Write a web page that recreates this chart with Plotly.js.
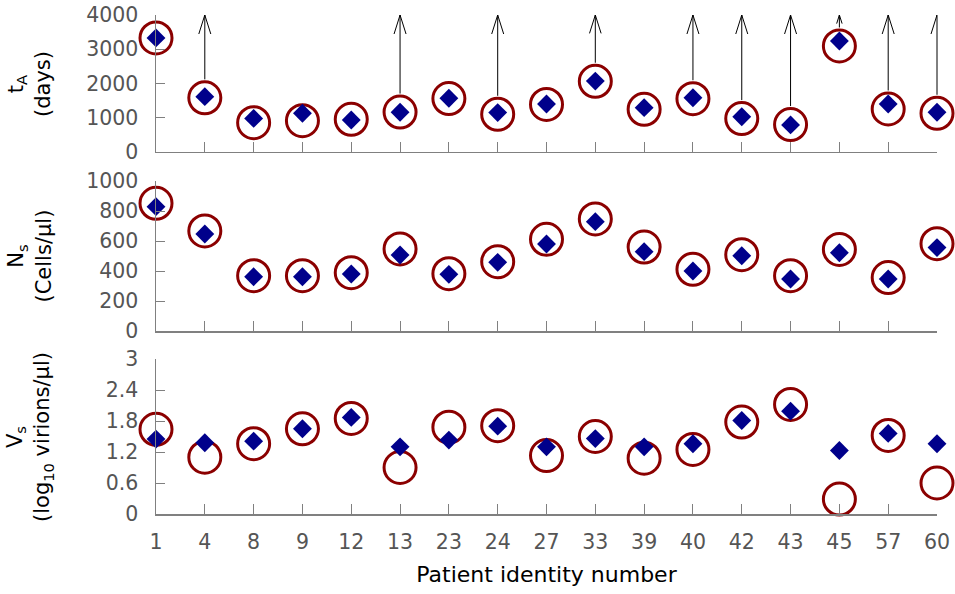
<!DOCTYPE html>
<html>
<head>
<meta charset="utf-8">
<script src="https://cdn.plot.ly/plotly-3.0.1.min.js"></script>
<style>html,body{margin:0;padding:0;background:#fff;}#chart{width:955px;height:594px;}</style>
</head>
<body>
<div id="chart"></div>
<script>
// ---- data ----
const patients = ['1','4','8','9','12','13','23','24','27','33','39','40','42','43','45','57','60'];
// t_A (days): diamonds and circles
const tA_diamond = [3330, 1615, 980, 1130, 935, 1160, 1570, 1150, 1400, 2070, 1295, 1585, 1030, 790, 3240, 1400, 1160];
const tA_circle  = [3330, 1580, 855, 915, 955, 1165, 1560, 1100, 1390, 2065, 1245, 1555, 975, 800, 3095, 1255, 1130];
// patients whose t_A is a lower bound (arrow up to the axis top)
const tA_arrowPatients = ['4','13','24','33','40','42','43','45','57','60'];
const tA_arrowTop = 4000;
// N_s (cells/ul)
const Ns_diamond = [829, 647, 362, 362, 380, 507, 378, 458, 580, 729, 529, 400, 502, 347, 522, 347, 556];
const Ns_circle  = [851, 667, 369, 369, 389, 547, 382, 462, 611, 747, 560, 411, 509, 369, 544, 356, 582];
// V_s (log10 virions/ul)
const Vs_diamond = [1.45, 1.38, 1.41, 1.65, 1.87, 1.30, 1.43, 1.70, 1.30, 1.46, 1.30, 1.36, 1.81, 1.99, 1.23, 1.56, 1.36];
const Vs_circle  = [1.64, 1.10, 1.36, 1.65, 1.85, 0.90, 1.68, 1.71, 1.13, 1.50, 1.08, 1.25, 1.78, 2.12, 0.29, 1.52, 0.60];
const Vs_ticks = [0, 0.6, 1.2, 1.8, 2.4, 3];
const Vs_tickText = ['0', '0.6', '1.2', '1.8', '2.4', '3'];

// ---- styling ----
const FONT = 'DejaVu Sans, sans-serif';
const AXIS = '#808080';
const TICKTXT = '#555555';
const NAVY = '#00008b';
const RED = '#8b0000';
const idx = patients.map((p, i) => i);

function circleTrace(y, xa, ya) {
  return {x: idx, y: y, xaxis: xa, yaxis: ya, type: 'scatter', mode: 'markers', cliponaxis: false,
    hoverinfo: 'skip', showlegend: false,
    marker: {symbol: 'circle-open', size: 32, color: RED, line: {width: 3, color: RED}}};
}
function diamondTrace(y, xa, ya) {
  return {x: idx, y: y, xaxis: xa, yaxis: ya, type: 'scatter', mode: 'markers', cliponaxis: false,
    hoverinfo: 'skip', showlegend: false,
    marker: {symbol: 'diamond', size: 14.5, color: NAVY, line: {width: 0}}};
}

const data = [
  circleTrace(tA_circle, 'x', 'y'), diamondTrace(tA_diamond, 'x', 'y'),
  circleTrace(Ns_circle, 'x2', 'y2'), diamondTrace(Ns_diamond, 'x2', 'y2'),
  circleTrace(Vs_circle, 'x3', 'y3'), diamondTrace(Vs_diamond, 'x3', 'y3')
];

// arrows: shaft = annotation starting at the circle edge; head = open V (pixel-sized shape at the axis top)
const annotations = [];
const shapes = [];
tA_arrowPatients.forEach(p => {
  const i = patients.indexOf(p);
  const v = tA_circle[i];
  annotations.push({x: i, y: tA_arrowTop, ax: i, ay: v, xref: 'x', yref: 'y', axref: 'x', ayref: 'y',
    text: '', showarrow: true, arrowhead: 0, arrowwidth: 1, arrowcolor: '#000', standoff: 0, startstandoff: 17});
  const s = Math.min(1, (tA_arrowTop - v) / 2000);
  shapes.push({type: 'path', xref: 'x', yref: 'y domain', xsizemode: 'pixel', ysizemode: 'pixel',
    xanchor: i, yanchor: 1,
    path: 'M' + (-6 * s) + ',' + (-19 * s) + ' L0,0 L' + (6 * s) + ',' + (-19 * s),
    line: {color: '#000', width: 1}});
});

// y-axis titles
function yTitle(text, yc) {
  return {text: text, xref: 'paper', yref: 'paper', x: -0.162, y: yc, xanchor: 'center', yanchor: 'middle',
    textangle: -90, showarrow: false, font: {family: FONT, size: 21, color: '#000'}};
}
annotations.push(yTitle('t<sub>A</sub><br>(days)', 0.8627));
annotations.push(yTitle('N<sub>s</sub><br>(Cells/μl)', 0.517));
annotations.push(yTitle('V<sub>s</sub><br>(log<sub>10</sub> virions/μl)', 0.1553));

function xAxis(anchor, labels) {
  return {anchor: anchor, domain: [0, 1], range: [0, patients.length - 1], tickmode: 'array',
    tickvals: idx, ticktext: patients, showticklabels: labels, ticks: 'inside', ticklen: 10,
    tickcolor: AXIS, tickwidth: 1, showline: true, linecolor: AXIS, linewidth: 1.5, showgrid: false,
    zeroline: false, fixedrange: true, ticklabelstandoff: 9,
    tickfont: {family: FONT, size: 20.5, color: TICKTXT}};
}
function yAxis(anchor, dom, range, extra) {
  return Object.assign({anchor: anchor, domain: dom, range: range, ticks: 'inside', ticklen: 9,
    tickcolor: AXIS, tickwidth: 1, showline: true, linecolor: AXIS, linewidth: 1.5, showgrid: false,
    zeroline: false, fixedrange: true, ticklabelstandoff: 12,
    tickfont: {family: FONT, size: 20.5, color: TICKTXT}}, extra);
}

const xa3 = xAxis('y3', true);
xa3.title = {text: 'Patient identity number', font: {family: FONT, size: 22, color: '#000'}, standoff: 13};

const layout = {
  width: 955, height: 594,
  margin: {l: 156, r: 18, t: 15, b: 80},
  paper_bgcolor: '#fff', plot_bgcolor: '#fff',
  font: {family: FONT},
  showlegend: false,
  xaxis: xAxis('y', false),
  xaxis2: xAxis('y2', false),
  xaxis3: xa3,
  yaxis: yAxis('x', [0.7255, 1], [0, tA_arrowTop], {tickmode: 'linear', tick0: 0, dtick: 1000}),
  yaxis2: yAxis('x2', [0.3667, 0.6673], [0, 1000], {tickmode: 'linear', tick0: 0, dtick: 200}),
  yaxis3: yAxis('x3', [0, 0.3106], [0, 3], {tickmode: 'array', tickvals: Vs_ticks, ticktext: Vs_tickText}),
  annotations: annotations,
  shapes: shapes
};

Plotly.newPlot('chart', data, layout, {displayModeBar: false, staticPlot: true});
</script>
</body>
</html>
